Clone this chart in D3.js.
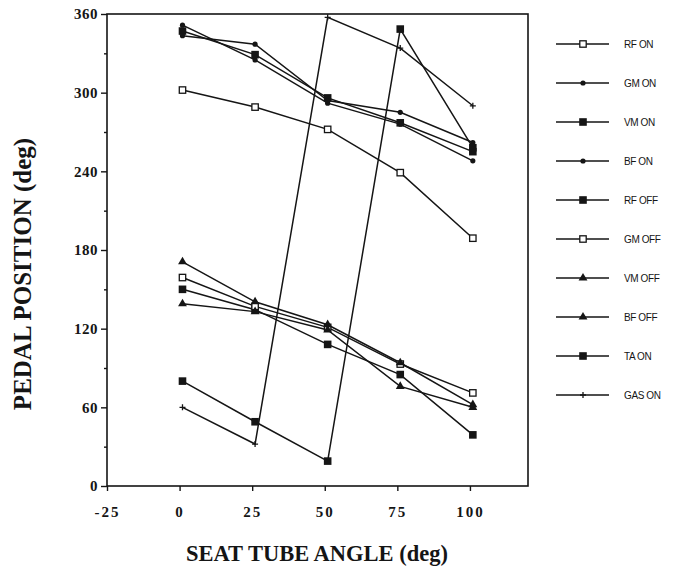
<!DOCTYPE html>
<html><head><meta charset="utf-8">
<script src="https://cdn.jsdelivr.net/npm/d3@7"></script>
<style>body{margin:0;background:#fff}</style>
</head><body><svg id="c" width="678" height="570"></svg>
<script>
// ---- data ----
const angles = [1, 26, 51, 76, 101];
const seriesNames = ["RF ON","GM ON","VM ON","BF ON","RF OFF","GM OFF","VM OFF","BF OFF","TA ON","GAS ON"];
const rfOn  = [302, 289, 272, 239, 189];
const gmOn  = [351.5, 325, 292, 276, 248];
const vmOn  = [347, 329, 296, 277, 255];
const bfOn  = [343.5, 337, 294, 285, 262];
const rfOff = [150, 134.5, 108, 85, 39];
const gmOff = [159, 137, 121, 93, 71];
const vmOff = [171, 140.5, 123, 94, 62];
const bfOff = [139, 133, 119, 76, 60];
const taOn  = [80, 49, 19, 348.5, 258];
const gasOn = [60, 32, 357.5, 334, 290];
const markerKinds = ["openSquare","dot","filledSquare","dot","filledSquare","openSquare","triangle","triangle","filledSquare","plus"];
const xTicks = [-25, 0, 25, 50, 75, 100];
const yTicks = [0, 60, 120, 180, 240, 300, 360];
const yMinorTicks = [30, 90, 150, 210, 270, 330];
const xLabel = "SEAT TUBE ANGLE (deg)";
const yLabel = "PEDAL POSITION (deg)";

const allValues = [rfOn, gmOn, vmOn, bfOn, rfOff, gmOff, vmOff, bfOff, taOn, gasOn];
const series = seriesNames.map((n, i) => ({name: n, kind: markerKinds[i],
  pts: angles.map((a, j) => ({x: a, y: allValues[i][j]}))}));

// ---- chart ----
const ink = "#151515";
const svg = d3.select("#c");
const x = d3.scaleLinear().domain([-25, 120]).range([107, 528]);
const y = d3.scaleLinear().domain([0, 360]).range([486, 14]);

// frame
svg.append("rect").attr("x", x(-25)).attr("y", y(360))
  .attr("width", x(120) - x(-25)).attr("height", y(0) - y(360))
  .attr("fill", "none").attr("stroke", ink).attr("stroke-width", 1.6);

// x axis
const gx = svg.append("g").attr("transform", `translate(0,${y(0)})`)
  .call(d3.axisBottom(x).tickValues(xTicks).tickSize(5).tickFormat(d => String(d)));
gx.select(".domain").remove();
gx.selectAll(".tick line").attr("stroke", ink).attr("stroke-width", 1.4);
gx.selectAll(".tick text").attr("y", 31).attr("dy", 0)
  .attr("font-family", "Liberation Serif").attr("font-weight", "bold")
  .attr("font-size", 15).attr("letter-spacing", 2).attr("fill", ink);

// y axis
const gy = svg.append("g").attr("transform", `translate(${x(-25)},0)`)
  .call(d3.axisLeft(y).tickValues(yTicks).tickSize(6).tickPadding(3).tickFormat(d => String(d)));
gy.select(".domain").remove();
gy.selectAll(".tick line").attr("stroke", ink).attr("stroke-width", 1.4);
gy.selectAll(".tick text").attr("font-family", "Liberation Serif").attr("font-weight", "bold")
  .attr("font-size", 15).attr("letter-spacing", 0.5).attr("fill", ink);
const gym = svg.append("g").attr("transform", `translate(${x(-25)},0)`)
  .call(d3.axisLeft(y).tickValues(yMinorTicks).tickSize(3).tickFormat(""));
gym.select(".domain").remove();
gym.selectAll(".tick line").attr("stroke", ink).attr("stroke-width", 1.4);

// axis titles
svg.append("text").attr("x", 317).attr("y", 561).attr("text-anchor", "middle")
  .attr("font-family", "Liberation Serif").attr("font-weight", "bold")
  .attr("font-size", 22.5).attr("fill", ink).text(xLabel);
svg.append("text").attr("transform", "translate(31,274) rotate(-90)").attr("text-anchor", "middle")
  .attr("font-family", "Liberation Serif").attr("font-weight", "bold")
  .attr("font-size", 25).attr("fill", ink).text(yLabel);

// markers
function drawMarker(g, kind, cx, cy) {
  if (kind === "openSquare") {
    g.append("rect").attr("x", cx - 3.2).attr("y", cy - 3.2).attr("width", 6.4).attr("height", 6.4)
      .attr("fill", "#fff").attr("stroke", ink).attr("stroke-width", 1.3);
  } else if (kind === "filledSquare") {
    g.append("rect").attr("x", cx - 3.8).attr("y", cy - 3.8).attr("width", 7.6).attr("height", 7.6)
      .attr("fill", ink);
  } else if (kind === "dot") {
    g.append("circle").attr("cx", cx).attr("cy", cy).attr("r", 2.6).attr("fill", ink);
  } else if (kind === "triangle") {
    g.append("path").attr("transform", `translate(${cx},${cy})`)
      .attr("d", d3.symbol().type(d3.symbolTriangle).size(34)()).attr("fill", ink);
  } else if (kind === "plus") {
    g.append("path").attr("d", `M${cx - 3},${cy}H${cx + 3}M${cx},${cy - 3}V${cy + 3}`)
      .attr("stroke", ink).attr("stroke-width", 1.3);
  }
}

const line = d3.line().x(d => x(d.x)).y(d => y(d.y));
const gs = svg.append("g");
series.forEach(s => {
  gs.append("path").attr("d", line(s.pts)).attr("fill", "none")
    .attr("stroke", ink).attr("stroke-width", 1.5);
});
series.forEach(s => {
  s.pts.forEach(p => drawMarker(gs, s.kind, x(p.x), y(p.y)));
});

// legend
const lg = svg.append("g");
series.forEach((s, i) => {
  const ly = 44 + i * 39;
  lg.append("line").attr("x1", 556).attr("x2", 609).attr("y1", ly).attr("y2", ly)
    .attr("stroke", ink).attr("stroke-width", 1.3);
  drawMarker(lg, s.kind, 583, ly);
  lg.append("text").attr("x", 624).attr("y", ly + 3.5)
    .attr("font-family", "Liberation Sans").attr("font-size", 10)
    .attr("letter-spacing", -0.4).attr("fill", ink).text(s.name);
});
</script>
</body></html>
